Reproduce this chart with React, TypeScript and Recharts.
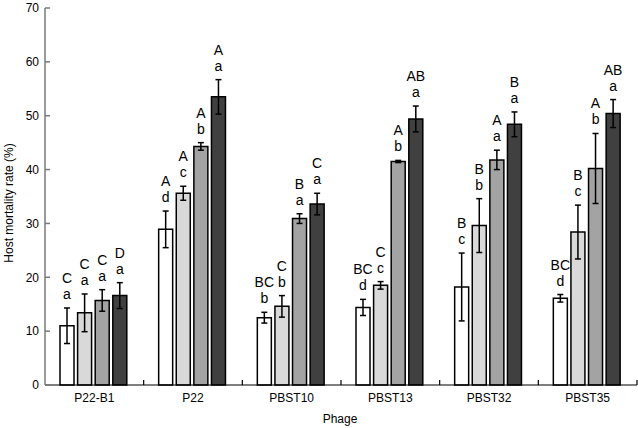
import { BarChart, Bar, XAxis, YAxis, ErrorBar, LabelList } from "recharts";

const phages = ["P22-B1", "P22", "PBST10", "PBST13", "PBST32", "PBST35"];

// four treatment series (white, light grey, grey, dark grey bars)
const s1 = [11.0, 28.9, 12.5, 14.4, 18.2, 16.1];
const s1Err = [3.3, 3.4, 1.0, 1.5, 6.3, 0.7];
const s2 = [13.4, 35.6, 14.6, 18.5, 29.6, 28.4];
const s2Err = [3.5, 1.3, 2.0, 0.7, 5.0, 5.0];
const s3 = [15.7, 44.3, 30.9, 41.5, 41.8, 40.2];
const s3Err = [2.0, 0.7, 0.9, 0.2, 1.8, 6.5];
const s4 = [16.6, 53.5, 33.6, 49.4, 48.4, 50.4];
const s4Err = [2.4, 3.2, 2.0, 2.4, 2.3, 2.6];

// significance letters: upper case above lower case
const s1Upper = ["C", "A", "BC", "BC", "B", "BC"];
const s1Lower = ["a", "d", "b", "d", "c", "d"];
const s2Upper = ["C", "A", "C", "C", "B", "B"];
const s2Lower = ["a", "c", "b", "c", "b", "c"];
const s3Upper = ["C", "A", "B", "A", "A", "A"];
const s3Lower = ["a", "b", "a", "b", "a", "b"];
const s4Upper = ["D", "A", "C", "AB", "B", "AB"];
const s4Lower = ["a", "a", "a", "a", "a", "a"];

const yTicks = [0, 10, 20, 30, 40, 50, 60, 70];

const data = phages.map((p, i) => ({
    phage: p,
    s1: s1[i],
    e1: s1Err[i],
    s2: s2[i],
    e2: s2Err[i],
    s3: s3[i],
    e3: s3Err[i],
    s4: s4[i],
    e4: s4Err[i],
}));

const series = [
    { key: "s1", err: "e1", errs: s1Err, upper: s1Upper, lower: s1Lower, fill: "#ffffff" },
    { key: "s2", err: "e2", errs: s2Err, upper: s2Upper, lower: s2Lower, fill: "#d9d9d9" },
    { key: "s3", err: "e3", errs: s3Err, upper: s3Upper, lower: s3Lower, fill: "#a3a3a3" },
    { key: "s4", err: "e4", errs: s4Err, upper: s4Upper, lower: s4Lower, fill: "#404040" },
];

function makeLetters(errs: number[], upper: string[], lower: string[]) {
    return (props: any) => {
        const vb = props.viewBox || props;
        const { x, y, width, height } = vb;
        const idx = props.index;
        const val = Number(props.value);
        if (!val || idx == null) return null;
        const top = y - (errs[idx] * height) / val;
        const cx = x + width / 2;
        return (
            <g>
                <text x={cx} y={top - 25} textAnchor="middle" fontSize={14} fill="#000">
                    {upper[idx]}
                </text>
                <text x={cx} y={top - 9} textAnchor="middle" fontSize={14} fill="#000">
                    {lower[idx]}
                </text>
            </g>
        );
    };
}

const PhageTick = (props: any) => {
    const { x, y, payload } = props;
    const off = payload && payload.offset ? payload.offset : 49.3;
    return (
        <g>
            <line x1={x + off} y1={y} x2={x + off} y2={y - 5} stroke="#000" strokeWidth={1.2} />
            <text x={x} y={y + 17} textAnchor="middle" fontSize={12} fill="#000">
                {payload.value}
            </text>
        </g>
    );
};

export default function App() {
    return (
        <div
            style={{
                position: "absolute",
                left: 0,
                top: 0,
                width: 638,
                height: 428,
                background: "#fff",
                fontFamily: "'Liberation Sans', Arial, sans-serif",
            }}
        >
            <BarChart
                width={638}
                height={428}
                data={data}
                margin={{ top: 8, right: 1, bottom: 0, left: 0 }}
                barCategoryGap={15}
                barGap={3.6}
            >
                <XAxis
                    dataKey="phage"
                    height={43}
                    stroke="#000"
                    strokeWidth={1.2}
                    tickLine={false}
                    tickSize={0}
                    tickMargin={0}
                    tick={<PhageTick />}
                    interval={0}
                    label={{
                        content: () => (
                            <text x={340} y={423} textAnchor="middle" fontSize={12} fill="#000">
                                Phage
                            </text>
                        ),
                    }}
                />
                <YAxis
                    width={45}
                    domain={[0, 70]}
                    ticks={yTicks}
                    interval={0}
                    stroke="#7a7a7a"
                    strokeWidth={1.5}
                    tickSize={-5}
                    tickMargin={11}
                    tick={{ fontSize: 12, fill: "#000" }}
                    label={{
                        content: () => (
                            <text
                                x={9}
                                y={203}
                                transform="rotate(-90 9 203)"
                                textAnchor="middle"
                                dominantBaseline="central"
                                fontSize={12}
                                fill="#000"
                            >
                                Host mortality rate (%)
                            </text>
                        ),
                    }}
                />
                {series.map((s) => (
                    <Bar
                        key={s.key}
                        dataKey={s.key}
                        fill={s.fill}
                        stroke="#000"
                        strokeWidth={1.5}
                        isAnimationActive={false}
                    >
                        <ErrorBar dataKey={s.err} width={3} stroke="#000" strokeWidth={1.5} />
                        <LabelList dataKey={s.key} content={makeLetters(s.errs, s.upper, s.lower)} />
                    </Bar>
                ))}
            </BarChart>
        </div>
    );
}
